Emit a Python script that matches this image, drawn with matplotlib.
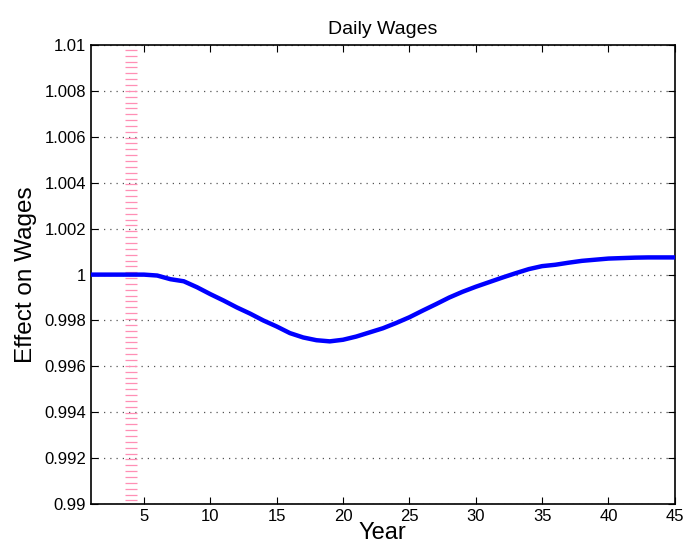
import numpy as np
import matplotlib.pyplot as plt

plt.rcParams['font.family'] = ['Liberation Sans', 'DejaVu Sans']

years = np.arange(1, 46)
effect = [1.0, 1.0, 1.0, 1.0, 1.0, 0.99996, 0.99980, 0.99971, 0.99945, 0.99915,
          0.99887, 0.99857, 0.99830, 0.99800, 0.99774, 0.99745, 0.99726, 0.99714,
          0.99709, 0.99716, 0.99730, 0.99748, 0.99766, 0.99789, 0.99814, 0.99843,
          0.99871, 0.99900, 0.99925, 0.99947, 0.99967, 0.99987, 1.00006, 1.00024,
          1.00037, 1.00043, 1.00052, 1.00060, 1.00065, 1.00070, 1.00072, 1.00074,
          1.00075, 1.00075, 1.00075]
event_year = 4

fig = plt.figure(figsize=(6.83, 5.52), dpi=100)
ax = fig.add_axes([0.133, 0.087, 0.855, 0.831])

# vertical marker line made of short horizontal dashes
ys = np.linspace(0.9899, 1.0098, 79)
ax.plot(np.full_like(ys, event_year), ys, linestyle='none', marker='_',
        markersize=8, markeredgewidth=0.9, color='#ff8fb5', zorder=2)

ax.plot(years, effect, color='#0000ff', lw=3.2, zorder=3)

ax.set_xlim(1, 45)
ax.set_ylim(0.99, 1.01)
ax.set_xticks([5, 10, 15, 20, 25, 30, 35, 40, 45])
yt = np.arange(0.99, 1.0101, 0.002)
ax.set_yticks(yt)
ax.set_yticklabels(['0.99', '0.992', '0.994', '0.996', '0.998', '1',
                    '1.002', '1.004', '1.006', '1.008', '1.01'])
ax.yaxis.grid(True, linestyle=(0, (1, 4)), color='#555555', lw=0.9)
ax.tick_params(direction='in', top=True, right=True, labelsize=12, length=5)
for s in ax.spines.values():
    s.set_linewidth(1.2)

ax.set_xlabel('Year', fontsize=17, labelpad=-1)
ax.set_ylabel('Effect on Wages', fontsize=17.5, labelpad=5)
ax.set_title('Daily Wages', fontsize=14, pad=8)

fig.savefig('out.png', dpi=100)
